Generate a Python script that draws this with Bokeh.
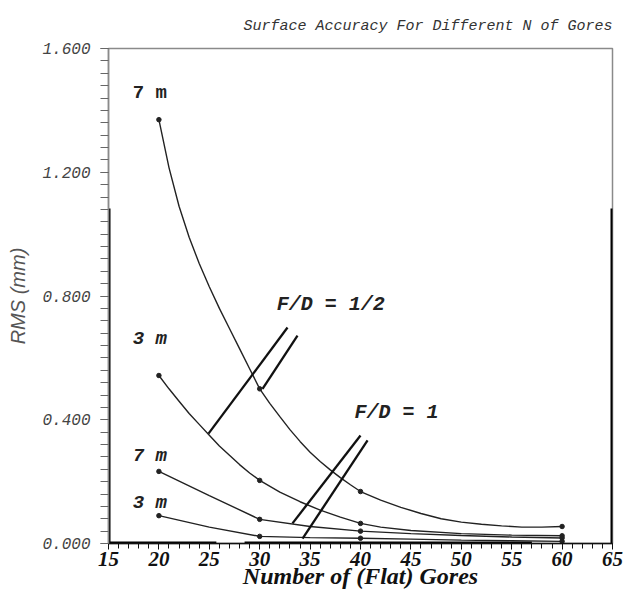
import numpy as np
from bokeh.plotting import figure
from bokeh.models import Range1d, Label, NumeralTickFormatter, FixedTicker
from bokeh.embed import file_html
from bokeh.resources import INLINE

# ---- data ----
gores = [20, 30, 40, 60]
rms_7m_half = [1.37, 0.50, 0.168, 0.055]
rms_3m_half = [0.543, 0.204, 0.065, 0.025]
rms_7m_one = [0.233, 0.078, 0.040, 0.018]
rms_3m_one = [0.090, 0.023, 0.017, 0.007]

# traced curve paths
tx_7m_half = [20, 21, 22, 23, 24, 25, 26, 27, 28, 29, 30, 31, 32, 33, 34, 35, 36, 37, 38, 39, 40,
              42, 44, 46, 48, 50, 52, 54, 56, 58, 60]
ty_7m_half = [1.37, 1.215, 1.09, 0.99, 0.905, 0.83, 0.76, 0.695, 0.63, 0.565, 0.50, 0.453, 0.41,
              0.368, 0.33, 0.295, 0.265, 0.238, 0.213, 0.19, 0.168, 0.14, 0.117, 0.097, 0.08,
              0.069, 0.062, 0.057, 0.053, 0.053, 0.055]
tx_3m_half = [20, 21, 22, 23, 24, 25, 26, 27, 28, 29, 30, 32, 34, 36, 38, 40, 42, 45, 50, 55, 60]
ty_3m_half = [0.543, 0.50, 0.46, 0.42, 0.385, 0.35, 0.315, 0.285, 0.255, 0.228, 0.204, 0.166,
              0.135, 0.108, 0.085, 0.065, 0.053, 0.042, 0.032, 0.027, 0.025]
tx_7m_one = [20, 25, 30, 35, 40, 45, 50, 55, 60]
ty_7m_one = [0.233, 0.155, 0.078, 0.055, 0.040, 0.032, 0.026, 0.021, 0.018]
tx_3m_one = [20, 25, 30, 35, 40, 45, 50, 55, 60]
ty_3m_one = [0.090, 0.053, 0.023, 0.019, 0.017, 0.014, 0.011, 0.009, 0.007]

x_ticks = [15, 20, 25, 30, 35, 40, 45, 50, 55, 60, 65]
y_ticks = [0.0, 0.4, 0.8, 1.2, 1.6]

p = figure(width=625, height=595, x_range=Range1d(15, 65), y_range=Range1d(0, 1.6),
           output_backend="svg", toolbar_location=None,
           min_border_left=108, min_border_right=13, min_border_top=48, min_border_bottom=52,
           title="Surface Accuracy For Different N of Gores")
p.title.align = "right"
p.title.text_font = "Liberation Mono"
p.title.text_font_style = "italic"
p.title.text_font_size = "15px"
p.title.text_line_height = 1.0
p.title.text_color = "#333"
p.title.standoff = 28

p.xgrid.visible = False
p.ygrid.visible = False
p.outline_line_color = "#8a8a8a"
p.outline_line_width = 1.5
p.background_fill_color = "white"
p.border_fill_color = "white"

# axes
xa = p.xaxis[0]
xa.ticker = FixedTicker(ticks=x_ticks, minor_ticks=list(range(15, 66)))
xa.axis_line_color = "#111"
xa.axis_line_width = 1.5
xa.major_tick_line_color = "#111"
xa.minor_tick_line_color = "#111"
xa.major_tick_out = 6
xa.major_tick_in = 0
xa.minor_tick_out = 5
xa.minor_tick_in = 0
xa.major_label_text_font = "Liberation Serif"
xa.major_label_text_font_style = "bold italic"
xa.major_label_text_font_size = "21px"
xa.major_label_text_color = "#111"
xa.major_label_standoff = 2
xa.axis_label = "Number of (Flat) Gores"
xa.axis_label_text_font = "Liberation Serif"
xa.axis_label_text_font_style = "bold italic"
xa.axis_label_text_font_size = "24px"
xa.axis_label_text_color = "#111"
xa.axis_label_standoff = -6

ya = p.yaxis[0]
ya.ticker = FixedTicker(ticks=y_ticks, minor_ticks=list(np.round(np.arange(0, 1.6001, 0.04), 3)))
ya.formatter = NumeralTickFormatter(format="0.000")
ya.axis_line_color = "#8a8a8a"
ya.axis_line_width = 1.5
ya.major_tick_line_color = "#666"
ya.minor_tick_line_color = "#666"
ya.major_tick_out = 8
ya.major_tick_in = 0
ya.minor_tick_out = 8
ya.minor_tick_in = 0
ya.major_label_text_font = "Liberation Mono"
ya.major_label_text_font_style = "italic"
ya.major_label_text_font_size = "16px"
ya.major_label_text_color = "#444"
ya.major_label_standoff = 10
ya.axis_label = "RMS (mm)"
ya.axis_label_text_font = "Liberation Sans"
ya.axis_label_text_font_style = "italic"
ya.axis_label_text_font_size = "20px"
ya.axis_label_text_color = "#555"
ya.axis_label_standoff = 10

# scan-like dark frame parts
p.segment(x0=[15, 65, 15, 28.5], y0=[0, 0, 0, 0], x1=[15, 65, 25.7, 57], y1=[1.083, 1.083, 0, 0],
          line_color="black", line_width=4)

ink = "#222222"
for tx, ty in [(tx_7m_half, ty_7m_half), (tx_3m_half, ty_3m_half),
               (tx_7m_one, ty_7m_one), (tx_3m_one, ty_3m_one)]:
    p.line(tx, ty, line_color=ink, line_width=1.4)
for vals in [rms_7m_half, rms_3m_half, rms_7m_one, rms_3m_one]:
    p.scatter(gores, vals, size=4.5, color=ink)

# F/D leader lines
p.segment(x0=[32.76, 33.75, 40.0, 40.7], y0=[0.698, 0.672, 0.349, 0.333],
          x1=[24.92, 30.28, 33.25, 34.25], y1=[0.355, 0.50, 0.065, 0.016],
          line_color="#111", line_width=2.3)

def lab(x, y, t, font="Liberation Mono", style="bold", size="18px", color="#222", **kw):
    p.add_layout(Label(x=x, y=y, text=t, text_font=font, text_font_style=style,
                       text_font_size=size, text_color=color, **kw))

lab(17.4, 1.419, "7 m", size="19px")
lab(17.4, 0.624, "3 m", size="19px", style="bold italic")
lab(17.4, 0.246, "7 m", size="19px", style="bold italic")
lab(17.4, 0.094, "3 m", size="19px", style="bold italic")
lab(31.7, 0.734, "F/D = 1/2", size="20px", style="bold italic")
lab(39.4, 0.385, "F/D = 1", size="20px", style="bold italic")

open("out.html", "w").write(file_html(p, INLINE))
